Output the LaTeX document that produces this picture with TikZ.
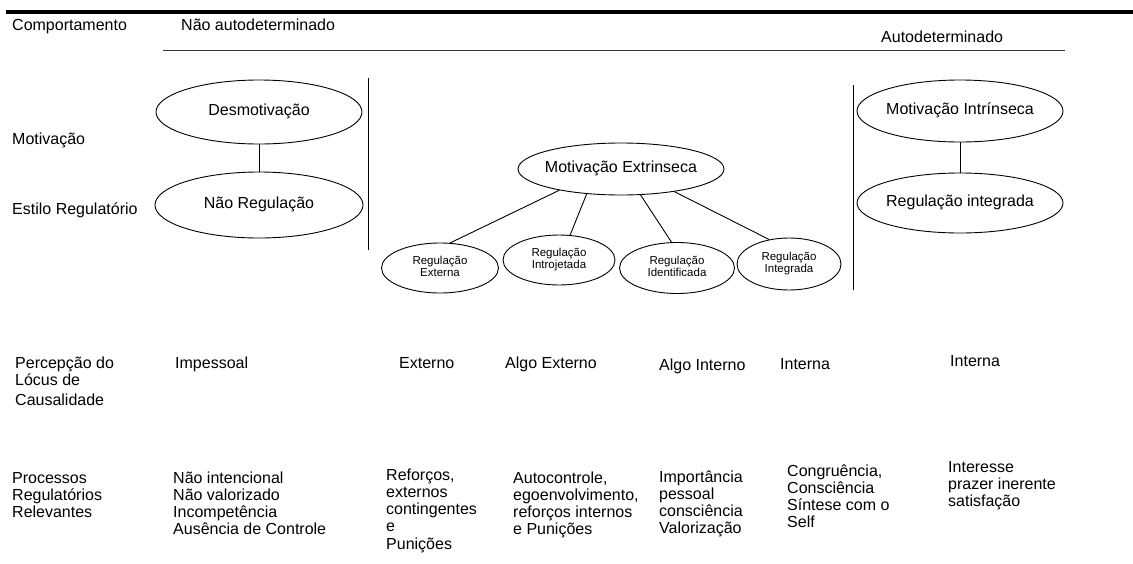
\documentclass[tikz,border=0pt]{standalone}
\usepackage{fontspec}
\setmainfont{Liberation Sans}
\usetikzlibrary{shapes.geometric}
\newcommand\tl[1]{\begin{tabular}[t]{@{}l@{}}#1\end{tabular}}
\newcommand\tc[1]{\makebox[0pt]{\begin{tabular}{@{}c@{}}#1\end{tabular}}}
\begin{document}
\begin{tikzpicture}[x=1pt,y=-1pt,
  txt/.style={anchor=base west, inner sep=0pt, font=\fontsize{16}{17.3}\selectfont},
  ell/.style={draw, ellipse, inner sep=0pt, line width=0.9pt, font=\fontsize{16}{17.3}\selectfont},
  sell/.style={draw, ellipse, inner sep=0pt, line width=0.9pt, font=\fontsize{11.5}{12.5}\selectfont},
  conn/.style={line width=0.9pt},
  rule/.style={line width=0.9pt}]
\useasboundingbox (0,0) rectangle (1133,563);

% top rules
\coordinate (t1) at (6,12);
\coordinate (t2) at (1133,12);
\draw[line width=4pt] (t1) -- (t2);
\coordinate (h1) at (163,50);
\coordinate (h2) at (1065,50);
\draw[rule, black!80] (h1) -- (h2);

% vertical separators
\coordinate (v1a) at (368,78);
\coordinate (v1b) at (368,250);
\draw[rule] (v1a) -- (v1b);
\coordinate (v2a) at (853,85);
\coordinate (v2b) at (853,290);
\draw[rule] (v2a) -- (v2b);

% header texts
\node[txt] (comp) at (12,30) {Comportamento};
\node[txt] (nao) at (181,30) {Não autodeterminado};
\node[txt] (auto) at (881,42) {Autodeterminado};
\node[txt] (mot) at (12,144) {Motivação};
\node[txt] (est) at (12,214) {Estilo Regulatório};

% ellipses
\node[ell, minimum width=206pt, minimum height=64pt] (desm) at (259,112) {\tc{Desmotivação}};
\node[ell, minimum width=208pt, minimum height=66pt] (nreg) at (259,205) {\tc{Não Regulação}};
\draw[conn] (desm.south) -- (nreg.north);

\node[ell, minimum width=206pt, minimum height=62pt] (mint) at (960,111) {\tc{Motivação Intrínseca}};
\node[ell, minimum width=206pt, minimum height=60pt] (rint) at (960,203) {\tc{Regulação integrada}};
\draw[conn] (mint.south) -- (rint.north);

\node[ell, minimum width=206pt, minimum height=52pt] (mext) at (621,169) {\tc{Motivação Extrinseca}};
\node[sell, minimum width=117pt, minimum height=50pt] (rext) at (440,268) {\tc{Regulação\\Externa}};
\node[sell, minimum width=112pt, minimum height=50pt] (rintro) at (559,260) {\tc{Regulação\\Introjetada}};
\node[sell, minimum width=115pt, minimum height=51pt] (rident) at (677,268) {\tc{Regulação\\Identificada}};
\node[sell, minimum width=104pt, minimum height=52pt] (rinteg) at (789,264) {\tc{Regulação\\Integrada}};
\draw[conn] (mext.199.5) -- (rext.68);
\draw[conn] (mext.216) -- (rintro.66);
\draw[conn] (mext.307) -- (rident.102);
\draw[conn] (mext.337) -- (rinteg.129);

% locus row
\node[txt] (perc) at (15,368) {\tl{Percepção do\\Lócus de\\[3pt]Causalidade}};
\node[txt] (imp) at (175,368) {Impessoal};
\node[txt] (ext) at (399,368) {Externo};
\node[txt] (aext) at (505,368) {Algo Externo};
\node[txt] (aint) at (659,370) {Algo Interno};
\node[txt] (int1) at (780,369) {Interna};
\node[txt] (int2) at (950,366) {Interna};

% processes row
\node[txt] (proc) at (12,483) {\tl{Processos\\Regulatórios\\Relevantes}};
\node[txt] (p1) at (173,483) {\tl{Não intencional\\Não valorizado\\Incompetência\\Ausência de Controle}};
\node[txt] (p2) at (386,480) {\tl{Reforços,\\externos\\contingentes\\e\\Punições}};
\node[txt] (p3) at (513,483) {\tl{Autocontrole,\\egoenvolvimento,\\reforços internos\\e Punições}};
\node[txt] (p4) at (659,482) {\tl{Importância\\pessoal\\consciência\\Valorização}};
\node[txt] (p5) at (787,476) {\tl{Congruência,\\Consciência\\Síntese com o\\Self}};
\node[txt] (p6) at (948,472) {\tl{Interesse\\prazer inerente\\satisfação}};
\end{tikzpicture}
\end{document}
